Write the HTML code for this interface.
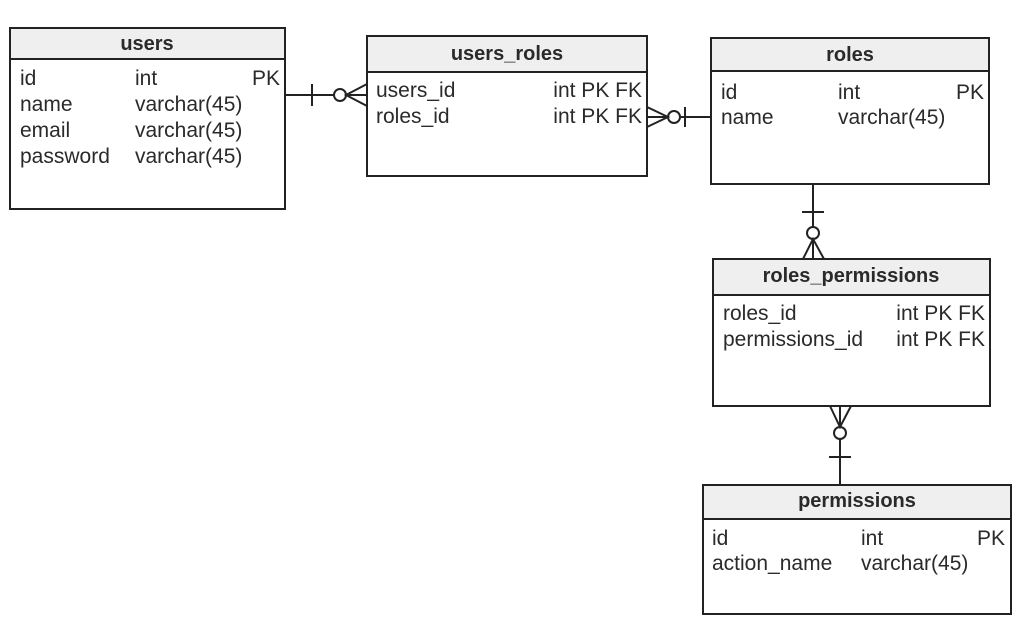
<!DOCTYPE html>
<html><head><style>body{margin:0;background:#fff}</style></head><body>
<svg width="1028" height="624" xmlns="http://www.w3.org/2000/svg" font-family="Liberation Sans, sans-serif" font-size="21" fill="#2a2a2a">
<g stroke="#222" stroke-width="2" fill="none">
<rect x="10" y="28" width="275" height="181" fill="#fff"/><rect x="10" y="28" width="275" height="31" fill="#efefef"/>
<rect x="367" y="36" width="280" height="140" fill="#fff"/><rect x="367" y="36" width="280" height="36" fill="#efefef"/>
<rect x="711" y="38" width="278" height="146" fill="#fff"/><rect x="711" y="38" width="278" height="33" fill="#efefef"/>
<rect x="713" y="259" width="277" height="147" fill="#fff"/><rect x="713" y="259" width="277" height="36" fill="#efefef"/>
<rect x="703" y="485" width="308" height="129" fill="#fff"/><rect x="703" y="485" width="308" height="34" fill="#efefef"/>
<line x1="285" y1="95" x2="334" y2="95"/><line x1="312" y1="84" x2="312" y2="106"/>
<circle cx="340" cy="95" r="6" fill="#fff"/>
<polyline points="367,84 346,95 367,106"/><line x1="346" y1="95" x2="367" y2="95"/>
<line x1="680" y1="117" x2="711" y2="117"/><line x1="685" y1="107" x2="685" y2="127"/>
<circle cx="674" cy="117" r="6" fill="#fff"/>
<polyline points="647,107 668,117 647,127"/><line x1="647" y1="117" x2="668" y2="117"/>
<line x1="813" y1="184" x2="813" y2="227"/><line x1="802" y1="212" x2="824" y2="212"/>
<circle cx="813" cy="233" r="6" fill="#fff"/>
<polyline points="803,259 813,239 824,259"/><line x1="813" y1="239" x2="813" y2="259"/>
<line x1="840" y1="439" x2="840" y2="485"/><line x1="829" y1="457" x2="851" y2="457"/>
<circle cx="840" cy="433" r="6" fill="#fff"/>
<polyline points="830,406 840,427 851,406"/><line x1="840" y1="406" x2="840" y2="427"/>
</g>
<g font-weight="bold" text-anchor="middle" font-size="20">
<text x="147" y="50">users</text>
<text x="507" y="60">users_roles</text>
<text x="850" y="61">roles</text>
<text x="851" y="282">roles_permissions</text>
<text x="857" y="507">permissions</text>
</g>
<text x="20" y="85">id</text><text x="135" y="85">int</text><text x="280" y="85" text-anchor="end">PK</text>
<text x="20" y="111">name</text><text x="135" y="111">varchar(45)</text>
<text x="20" y="137">email</text><text x="135" y="137">varchar(45)</text>
<text x="20" y="163">password</text><text x="135" y="163">varchar(45)</text>
<text x="376" y="97">users_id</text><text x="642" y="97" text-anchor="end">int PK FK</text>
<text x="376" y="123">roles_id</text><text x="642" y="123" text-anchor="end">int PK FK</text>
<text x="721" y="99">id</text><text x="838" y="99">int</text><text x="984" y="99" text-anchor="end">PK</text>
<text x="721" y="124">name</text><text x="838" y="124">varchar(45)</text>
<text x="723" y="320">roles_id</text><text x="985" y="320" text-anchor="end">int PK FK</text>
<text x="723" y="346">permissions_id</text><text x="985" y="346" text-anchor="end">int PK FK</text>
<text x="712" y="545">id</text><text x="861" y="545">int</text><text x="1005" y="545" text-anchor="end">PK</text>
<text x="712" y="570">action_name</text><text x="861" y="570">varchar(45)</text>
</svg>
</body></html>
